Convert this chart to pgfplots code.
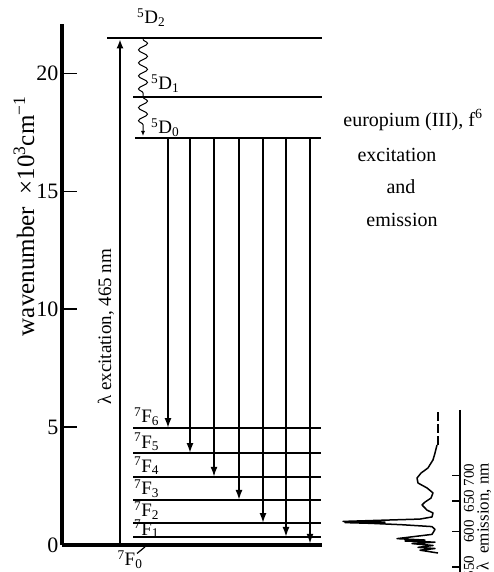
\documentclass[border=0pt]{standalone}
\usepackage{pgfplots}
\pgfplotsset{compat=1.18}
\usepackage{fontspec}
\setmainfont{Liberation Serif}
\usetikzlibrary{arrows.meta,decorations.pathmorphing}
\begin{document}
\begin{tikzpicture}
\useasboundingbox (0,0) rectangle (494pt,572pt);
\begin{axis}[
    at={(62pt,27pt)}, anchor=south west,
    scale only axis,
    width=432pt, height=521pt,
    xmin=62, xmax=494,
    ymin=0, ymax=22.1,
    axis x line=none,
    axis y line*=left,
    axis line style={line width=3.5pt},
    ytick={0,5,10,15,20},
    tick align=inside,
    major tick length=15pt,
    ytick style={line width=1.5pt, black},
    yticklabel style={font=\fontsize{22}{26}\selectfont},
    /pgf/number format/assume math mode=true,
    ylabel={wavenumber \ ×10\textsuperscript{3}cm\textsuperscript{−1}},
    ylabel style={font=\fontsize{25}{30}\selectfont, at={(axis description cs:-0.088,0.631)}, anchor=center},
    clip=false,
]
% energy levels
\addplot[line width=1.8pt] coordinates {(107,21.5) (322,21.5)};
\addplot[line width=1.8pt] coordinates {(133,19.0) (322,19.0)};
\addplot[line width=1.8pt] coordinates {(135,17.27) (321,17.27)};
\addplot[line width=1.8pt] coordinates {(133,4.96) (321,4.96)};
\addplot[line width=1.8pt] coordinates {(133,3.90) (321,3.90)};
\addplot[line width=1.8pt] coordinates {(133,2.89) (321,2.89)};
\addplot[line width=1.8pt] coordinates {(133,1.91) (321,1.91)};
\addplot[line width=1.8pt] coordinates {(133,0.93) (321,0.93)};
\addplot[line width=1.8pt] coordinates {(133,0.34) (321,0.34)};
\addplot[line width=3.5pt] coordinates {(62,0) (322,0)};
% excitation
\addplot[line width=1.8pt, -{Latex[length=9pt,width=7pt]}] coordinates {(120,0.1) (120,21.45)};
\node[rotate=90, font=\fontsize{19}{22}\selectfont] at (axis cs:106,9.25) {λ excitation, 465 nm};
% non-radiative relaxation
\addplot[line width=1pt, decorate, decoration={snake, amplitude=4.5pt, segment length=13pt}] coordinates {(143,21.45) (143,19.0)};
\addplot[line width=1pt, decorate, decoration={snake, amplitude=4.5pt, segment length=13pt, post length=5pt}, -{Latex[length=5pt,width=4pt]}] coordinates {(143,19.0) (143,17.35)};
% emission
\addplot[line width=1.8pt, -{Latex[length=10pt,width=7pt]}] coordinates {(168,17.27) (168,4.96)};
\addplot[line width=1.8pt, -{Latex[length=10pt,width=7pt]}] coordinates {(190,17.27) (190,3.90)};
\addplot[line width=1.8pt, -{Latex[length=10pt,width=7pt]}] coordinates {(214,17.27) (214,2.89)};
\addplot[line width=1.8pt, -{Latex[length=10pt,width=7pt]}] coordinates {(239,17.27) (239,1.91)};
\addplot[line width=1.8pt, -{Latex[length=10pt,width=7pt]}] coordinates {(263,17.27) (263,0.93)};
\addplot[line width=1.8pt, -{Latex[length=10pt,width=7pt]}] coordinates {(286,17.27) (286,0.34)};
\addplot[line width=1.8pt, -{Latex[length=10pt,width=7pt]}] coordinates {(310,17.27) (310,0.05)};
% level labels
\begin{scope}[font=\fontsize{19}{22}\selectfont, inner sep=0pt]
\node[anchor=west] at (axis cs:137,22.36) {\textsuperscript{5}D\textsubscript{2}};
\node[anchor=west] at (axis cs:151,19.56) {\textsuperscript{5}D\textsubscript{1}};
\node[anchor=west] at (axis cs:151,17.69) {\textsuperscript{5}D\textsubscript{0}};
\node[anchor=west] at (axis cs:134,5.43) {\textsuperscript{7}F\textsubscript{6}};
\node[anchor=west] at (axis cs:134,4.37) {\textsuperscript{7}F\textsubscript{5}};
\node[anchor=west] at (axis cs:134,3.35) {\textsuperscript{7}F\textsubscript{4}};
\node[anchor=west] at (axis cs:134,2.38) {\textsuperscript{7}F\textsubscript{3}};
\node[anchor=west] at (axis cs:134,1.45) {\textsuperscript{7}F\textsubscript{2}};
\node[anchor=west] at (axis cs:134,0.68) {\textsuperscript{7}F\textsubscript{1}};
\node at (axis cs:130,-0.62) {\textsuperscript{7}F\textsubscript{0}};
\end{scope}
\addplot[line width=1.2pt] coordinates {(137,-0.36) (145,-0.08)};
% title text
\begin{scope}[font=\fontsize{20}{24}\selectfont]
\node at (axis cs:413,18.03) {europium (III), f\textsuperscript{6}};
\node at (axis cs:397,16.55) {excitation};
\node at (axis cs:401,15.19) {and};
\node at (axis cs:402,13.79) {emission};
\end{scope}
% emission spectrum inset (wavelength axis on energy scale of lower level)
\addplot[line width=1.5pt] coordinates {(460,5.73) (460,-1.3)};
\addplot[line width=1.2pt] coordinates {(452,2.96) (460,2.96)};
\addplot[line width=1.2pt] coordinates {(452,1.865) (460,1.865)};
\addplot[line width=1.2pt] coordinates {(452,0.583) (460,0.583)};
\addplot[line width=1.2pt] coordinates {(452,-0.932) (460,-0.932)};
\begin{scope}[font=\fontsize{15}{18}\selectfont]
\node[rotate=90] at (axis cs:469,2.96) {700};
\node[rotate=90] at (axis cs:469,1.865) {650};
\node[rotate=90] at (axis cs:469,0.583) {600};
\node[rotate=90] at (axis cs:469,-0.932) {550};
\node[rotate=90, font=\fontsize{17}{20}\selectfont] at (axis cs:484,1.2) {λ \ emission, nm};
\end{scope}
\addplot[line width=1.5pt, dash pattern=on 9pt off 3pt] coordinates {(438,5.64) (438,4.24)};
\addplot[line width=1.5pt, line join=round] coordinates {
(437,4.24) (435,3.90) (433,3.61) (428,3.27) (421,3.05) (417,2.84) (418,2.63)
(427,2.42) (433,2.21) (431,1.99) (425,1.82) (422,1.70) (427,1.48) (433,1.36)
(432,1.19) (420,1.10) (343,1.00) (385,0.97) (345,0.95) (370,0.92) (402,0.86)
(432,0.78) (435,0.66) (432,0.45) (397,0.27) (425,0.21) (405,0.17) (435,0.12)
(412,0.06) (433,-0.02) (418,-0.10) (435,-0.15) (420,-0.22) (438,-0.34)};
\end{axis}
\end{tikzpicture}
\end{document}
